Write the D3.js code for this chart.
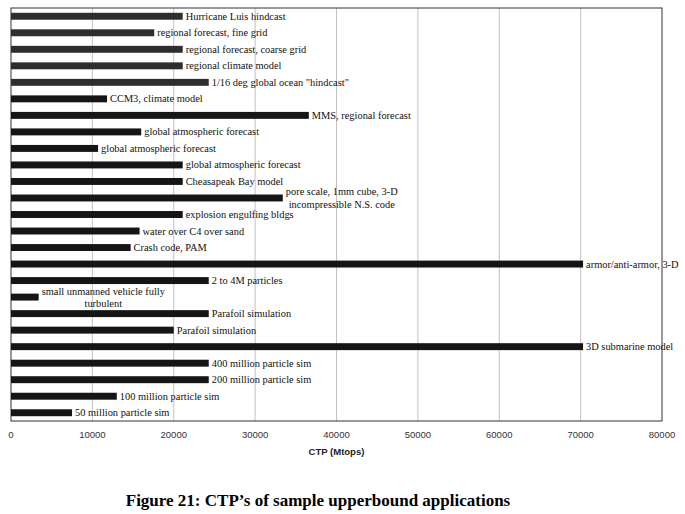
<!DOCTYPE html>
<html>
<head>
<meta charset="utf-8">
<script src="https://d3js.org/d3.v7.min.js"></script>
<style>
  body { margin: 0; background: #fff; }
</style>
</head>
<body>
<script>
// application names ("\n" splits a two line label) and their CTP in Mtops
var apps = [
  "Hurricane Luis hindcast",
  "regional forecast, fine grid",
  "regional forecast, coarse grid",
  "regional climate model",
  "1/16 deg global ocean \"hindcast\"",
  "CCM3, climate model",
  "MMS, regional forecast",
  "global atmospheric forecast",
  "global atmospheric forecast",
  "global atmospheric forecast",
  "Cheasapeak Bay model",
  "pore scale, 1mm cube, 3-D\nincompressible N.S. code",
  "explosion engulfing bldgs",
  "water over C4 over sand",
  "Crash code, PAM",
  "armor/anti-armor, 3-D",
  "2 to 4M particles",
  "small unmanned vehicle fully\nturbulent",
  "Parafoil simulation",
  "Parafoil simulation",
  "3D submarine model",
  "400 million particle sim",
  "200 million particle sim",
  "100 million particle sim",
  "50 million particle sim"
];
var ctp = [21100, 17600, 21100, 21100, 24300, 11800, 36600, 16000, 10700, 21100,
           21100, 33400, 21100, 15800, 14700, 70300, 24300, 3400, 24300, 20000,
           70300, 24300, 24300, 13000, 7500];
var ticks = [0, 10000, 20000, 30000, 40000, 50000, 60000, 70000, 80000];

(function () {
  var width = 685, height = 514;
  var pl = 11, pr = 662, pt = 8, pb = 421;

  var svg = d3.select("body").append("svg")
      .attr("width", width)
      .attr("height", height);

  var x = d3.scaleLinear().domain([0, 80000]).range([pl, pr]);
  var y = d3.scaleBand().domain(d3.range(apps.length)).range([pt, pb])
      .paddingInner(0.58).paddingOuter(0.29);

  // gridlines
  svg.selectAll(".grid")
      .data(ticks.slice(1, -1))
      .enter().append("line")
      .attr("x1", function (d) { return x(d); })
      .attr("x2", function (d) { return x(d); })
      .attr("y1", pt).attr("y2", pb)
      .style("stroke", "#a8a8a8")
      .style("stroke-width", 0.7);

  // frame
  svg.append("rect")
      .attr("x", pl).attr("y", pt)
      .attr("width", pr - pl).attr("height", pb - pt)
      .style("fill", "none")
      .style("stroke", "#333")
      .style("stroke-width", 1);

  // bars
  svg.selectAll(".bar")
      .data(ctp)
      .enter().append("rect")
      .attr("x", pl)
      .attr("y", function (d, i) { return y(i); })
      .attr("width", function (d) { return x(d) - pl; })
      .attr("height", y.bandwidth())
      .style("fill", function (d, i) { return i < 5 ? "#2e2e2e" : "#151515"; });

  // bar labels
  svg.selectAll(".lbl")
      .data(apps)
      .enter().append("text")
      .attr("class", "lbl")
      .style("font-family", "'Liberation Serif', 'Times New Roman', serif")
      .style("font-size", "10.4px")
      .style("fill", "#111")
      .each(function (d, i) {
        var t = d3.select(this);
        var lines = d.split("\n");
        var cy = y(i) + y.bandwidth() / 2;
        var x0 = x(ctp[i]) + 3;
        if (lines.length === 1) {
          t.attr("x", x0).attr("y", cy + 3.5).text(d);
        } else {
          var spans = lines.map(function (s, k) {
            return t.append("tspan").attr("y", cy - 2.5 + k * 12.5).text(s);
          });
          var w = d3.max(spans, function (s) { return s.node().getComputedTextLength(); });
          t.attr("text-anchor", "middle");
          spans.forEach(function (s) { s.attr("x", x0 + w / 2); });
        }
      });

  // x tick labels
  svg.selectAll(".tick")
      .data(ticks)
      .enter().append("text")
      .attr("x", function (d) { return x(d); })
      .attr("y", 438)
      .attr("text-anchor", "middle")
      .style("font-family", "'Liberation Sans', Arial, sans-serif")
      .style("font-size", "9.5px")
      .style("fill", "#333")
      .text(function (d) { return d; });

  svg.append("text")
      .attr("x", (pl + pr) / 2)
      .attr("y", 455)
      .attr("text-anchor", "middle")
      .style("font-family", "'Liberation Sans', Arial, sans-serif")
      .style("font-size", "9.5px")
      .style("font-weight", "bold")
      .style("fill", "#222")
      .text("CTP (Mtops)");

  svg.append("text")
      .attr("x", 318)
      .attr("y", 506)
      .attr("text-anchor", "middle")
      .style("font-family", "'Liberation Serif', 'Times New Roman', serif")
      .style("font-size", "17px")
      .style("font-weight", "bold")
      .style("fill", "#000")
      .text("Figure 21: CTP\u2019s of sample upperbound applications");
})();
</script>
</body>
</html>
